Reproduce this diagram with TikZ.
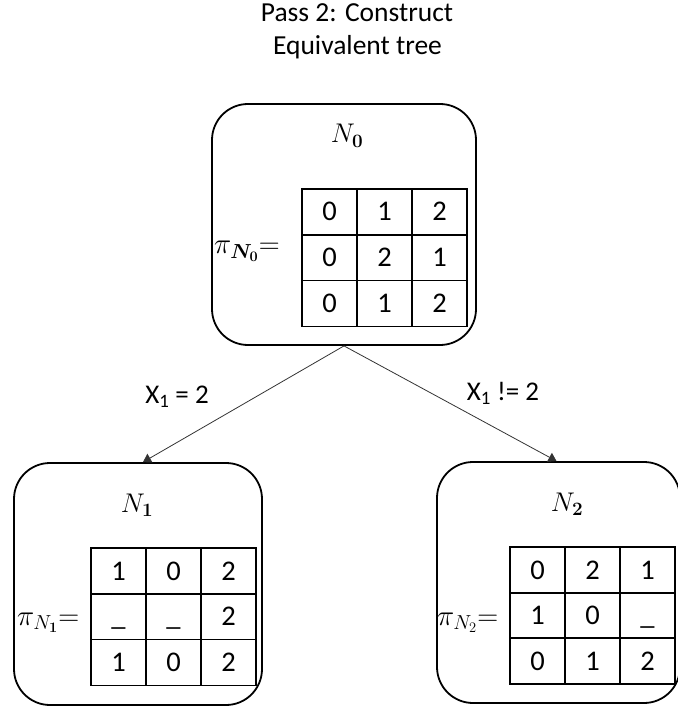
\RequirePackage{fix-cm}
\documentclass[tikz,border=0pt]{standalone}
\usepackage{amsmath}
\usepackage{bm}
\usepackage[no-math]{fontspec}
\setmainfont{Carlito}
\usetikzlibrary{arrows.meta}
\begin{document}
\begin{tikzpicture}[x=1pt,y=-1pt,
  box/.style={draw, line width=1.8pt, rounded corners=36pt, inner sep=0pt},
  cell/.style={draw, line width=1.3pt, minimum width=55pt, minimum height=45.8pt,
    inner sep=0pt, text height=18pt, text depth=0pt, font=\fontsize{28.5}{33}\selectfont},
  titletext/.style={inner sep=0pt, anchor=base, font=\fontsize{27.5}{33}\selectfont},
  mathlbl/.style={inner sep=0pt, font=\fontsize{27}{32}\selectfont},
  pilbl/.style={inner sep=0pt, anchor=base west, font=\fontsize{29}{34}\selectfont},
  edgelbl/.style={inner sep=0pt, anchor=base, font=\fontsize{27}{32}\selectfont},
  conn/.style={draw=black!80, line width=0.8pt, -{Triangle[length=8pt,width=10pt]}}]
\useasboundingbox (0,0) rectangle (677,708);

% title
\node[titletext] (t1) at (357,22) {Pass 2: Construct};
\node[titletext] (t2) at (357.5,55) {Equivalent tree};

% boxes
\node[box, minimum width=264pt, minimum height=241pt] (n0) at (344,224.5) {};
\node[box, minimum width=248pt, minimum height=242pt] (n1) at (138,584) {};
\node[box, minimum width=243pt, minimum height=241pt] (n2) at (558.5,582.5) {};

% node titles
\node[mathlbl, anchor=base] (n0t) at (347,143) {$N_{\mathbf{0}}$};
\node[mathlbl, anchor=base] (n1t) at (137,512) {$N_{\mathbf{1}}$};
\node[mathlbl, anchor=base] (n2t) at (567,511) {$N_{\mathbf{2}}$};

% pi labels
\node[pilbl] (p0) at (214,254) {$\pi_{\bm{N}_{\mathbf{0}}}{=}$};
\node[pilbl] (p1) at (17,625) {$\pi_{N_{\mathbf{1}}}{=}$};
\node[pilbl] (p2) at (437,625) {$\pi_{N_{2}}{=}$};

% tables
\foreach \r/\c/\v in {0/0/0,0/1/1,0/2/2,1/0/0,1/1/2,1/2/1,2/0/0,2/1/1,2/2/2}
  \node[cell] (a\r\c) at ({302+27.5+55*\c},{189+23+45.8*\r}) {\v};
\foreach \r/\c/\v in {0/0/1,0/1/0,0/2/2,1/0/\_,1/1/\_,1/2/2,2/0/1,2/1/0,2/2/2}
  \node[cell] (b\r\c) at ({91+27.5+55*\c},{548+23+45.8*\r}) {\v};
\foreach \r/\c/\v in {0/0/0,0/1/2,0/2/1,1/0/1,1/1/0,1/2/\_,2/0/0,2/1/1,2/2/2}
  \node[cell] (c\r\c) at ({510+27.5+55*\c},{547+23+45.5*\r}) {\v};

% connectors
\draw[conn] (n0.south) -- ([xshift=5pt]n1.north);
\draw[conn] (n0.south) -- ([xshift=-2pt]n2.north);

% edge labels
\node[edgelbl] (e1) at (177,403) {X\textsubscript{1} = 2};
\node[edgelbl] (e2) at (503,400) {X\textsubscript{1} != 2};
\end{tikzpicture}
\end{document}
